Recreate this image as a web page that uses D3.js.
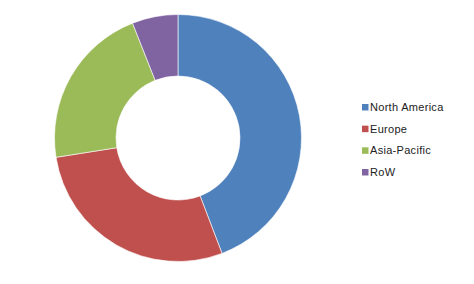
<!DOCTYPE html>
<html lang="en">
  <head>
    <meta charset="utf-8">
    <title>Regional share donut</title>
    <script src="https://d3js.org/d3.v7.min.js"></script>
    <style>
      body { margin: 0; background: white; }
    </style>
  </head>
  <body>
    <script type="text/javascript">

      var w = 474;
      var h = 284;

      // regions and their share (%)
      var regions = ["North America", "Europe", "Asia-Pacific", "RoW"];
      var shares = [44.2, 28.3, 21.5, 6.0];
      var colors = ["#4F81BD", "#C0504D", "#9BBB59", "#8064A2"];

      var cx = 178, cy = 138;
      var outerR = 123.5, innerR = 62;

      var dataset = regions.map(function(r, i) { return {region: r, value: shares[i]}; });

      var svg = d3.select("body")
          .append("svg")
          .attr("width", w)
          .attr("height", h);

      svg.append("rect")
          .attr("width", w)
          .attr("height", h)
          .attr("fill", "white");

      var color = d3.scaleOrdinal()
          .domain(regions)
          .range(colors);

      var pie = d3.pie()
          .sort(null)
          .value(function(d) { return d.value; });

      var arc = d3.arc()
          .innerRadius(innerR)
          .outerRadius(outerR);

// donut slices
      svg.append("g")
          .attr("transform", `translate(${cx}, ${cy})`)
          .selectAll("path")
          .data(pie(dataset))
          .enter().append("path")
          .attr("d", arc)
          .attr("fill", function(d) { return color(d.data.region); })
          .attr("stroke", "white")
          .attr("stroke-width", 0.6);

// legend
      var legendY = d3.scalePoint()
          .domain(regions)
          .range([107, 172]);

      var legend = svg.append("g")
          .selectAll("g")
          .data(regions)
          .enter().append("g")
          .attr("transform", function(d) { return `translate(362, ${legendY(d)})`; });

      legend.append("rect")
          .attr("x", 0)
          .attr("y", -3)
          .attr("width", 6.5)
          .attr("height", 6.5)
          .attr("fill", function(d) { return color(d); });

      legend.append("text")
          .attr("x", 8)
          .attr("y", 4)
          .style("font-family", "'Liberation Sans', Arial, sans-serif")
          .style("font-size", "11px")
          .style("letter-spacing", "0.3px")
          .attr("fill", "#222")
          .text(function(d) { return d; });

    </script>
  </body>
</html>
